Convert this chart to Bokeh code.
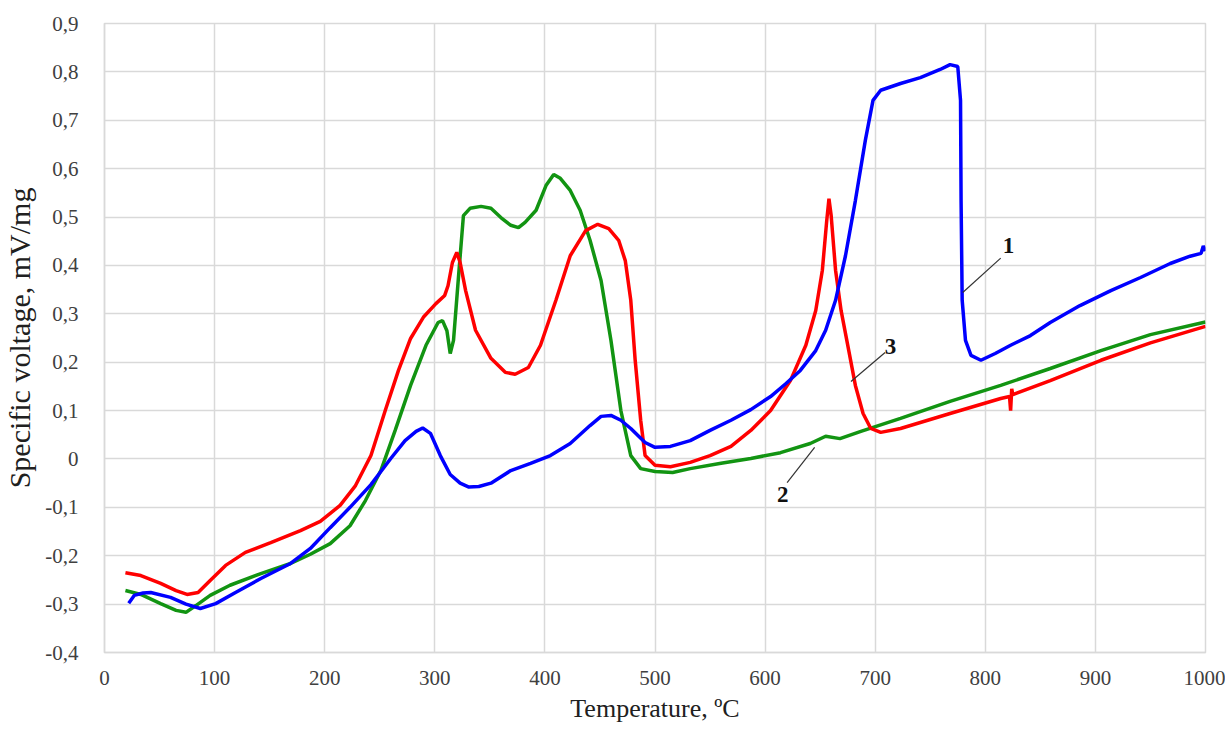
from bokeh.plotting import figure
from bokeh.embed import file_html
from bokeh.resources import INLINE
from bokeh.models import CustomJSTickFormatter, FixedTicker
from bokeh.core.properties import value

# Curve 1 (blue)
t1 = [22, 27, 35, 42, 60, 74, 87, 101, 119, 142, 169, 187, 205, 223, 242, 260, 273, 283, 289, 296,
      305, 314, 323, 331, 340, 351, 369, 387, 405, 423, 441, 451, 460, 469, 478, 491, 500, 514, 532,
      550, 569, 587, 605, 619, 632, 646, 655, 664, 673, 682, 691, 698, 705, 723, 741, 759, 768, 775,
      777.5, 778, 779, 782, 787, 796, 809, 823, 841, 859, 886, 914, 941, 968, 986, 996, 998, 1000]
v1 = [-0.298, -0.282, -0.277, -0.276, -0.286, -0.300, -0.309, -0.299, -0.276, -0.247, -0.216, -0.185,
      -0.142, -0.100, -0.053, 0.001, 0.038, 0.057, 0.064, 0.053, 0.007, -0.032, -0.050, -0.058, -0.057,
      -0.050, -0.024, -0.009, 0.007, 0.032, 0.069, 0.088, 0.090, 0.080, 0.063, 0.034, 0.024, 0.026,
      0.038, 0.059, 0.080, 0.102, 0.129, 0.156, 0.183, 0.224, 0.266, 0.328, 0.420, 0.534, 0.658, 0.741,
      0.762, 0.776, 0.788, 0.805, 0.815, 0.811, 0.741, 0.534, 0.328, 0.245, 0.214, 0.204, 0.218, 0.235,
      0.255, 0.282, 0.317, 0.348, 0.375, 0.404, 0.419, 0.425, 0.440, 0.430]

# Curve 2 (green)
t2 = [19, 33, 51, 65, 74, 83, 96, 114, 142, 169, 187, 205, 223, 237, 251, 264, 278, 292, 303, 307,
      311, 314, 317, 322, 326, 332, 342, 351, 360, 369, 376, 382, 392, 401, 408, 414, 423, 432, 441,
      451, 460, 469, 478, 487, 500, 516, 532, 560, 587, 614, 641, 655, 668, 687, 723, 768, 814, 859,
      905, 950, 1000]
v2 = [-0.272, -0.280, -0.299, -0.313, -0.317, -0.303, -0.282, -0.261, -0.237, -0.216, -0.197, -0.175,
      -0.138, -0.086, -0.024, 0.059, 0.152, 0.235, 0.282, 0.286, 0.265, 0.218, 0.245, 0.390, 0.503,
      0.518, 0.522, 0.518, 0.499, 0.483, 0.478, 0.489, 0.514, 0.565, 0.588, 0.580, 0.555, 0.514, 0.452,
      0.369, 0.245, 0.100, 0.007, -0.020, -0.026, -0.028, -0.020, -0.009, 0.001, 0.013, 0.032, 0.047,
      0.042, 0.057, 0.084, 0.119, 0.152, 0.187, 0.224, 0.257, 0.283]

# Curve 3 (red)
t3 = [19, 33, 51, 65, 75, 85, 96, 110, 128, 151, 178, 196, 214, 228, 242, 255, 267, 278, 290, 301,
      309, 312, 316, 320, 323, 328, 337, 351, 364, 373, 385, 396, 410, 423, 437, 448, 458, 467, 473,
      478, 482, 487, 491, 500, 514, 532, 550, 569, 587, 605, 623, 637, 646, 652, 656, 658, 660, 664,
      669, 676, 682, 689, 696, 705, 723, 768, 814, 822, 823, 824, 825, 859, 905, 950, 1000]
v3 = [-0.235, -0.241, -0.257, -0.272, -0.280, -0.276, -0.251, -0.220, -0.193, -0.173, -0.148, -0.129,
      -0.096, -0.055, 0.007, 0.100, 0.183, 0.249, 0.294, 0.321, 0.338, 0.358, 0.406, 0.427, 0.406, 0.348,
      0.266, 0.208, 0.179, 0.175, 0.189, 0.235, 0.328, 0.420, 0.472, 0.485, 0.476, 0.452, 0.410, 0.328,
      0.204, 0.080, 0.007, -0.013, -0.016, -0.007, 0.007, 0.026, 0.059, 0.100, 0.162, 0.235, 0.307,
      0.390, 0.493, 0.538, 0.503, 0.390, 0.307, 0.224, 0.152, 0.094, 0.063, 0.055, 0.063, 0.094, 0.125,
      0.129, 0.100, 0.145, 0.133, 0.162, 0.204, 0.240, 0.274]

x_ticks = list(range(0, 1001, 100))
y_ticks = [round(-0.4 + 0.1 * i, 1) for i in range(14)]

# Curve number labels and leader lines
lab_text = ["1", "2", "3"]
lab_x = [821, 616, 714]
lab_y = [0.441, -0.073, 0.232]
lead_x0 = [779.5, 645, 678]
lead_y0 = [0.344, 0.024, 0.160]
lead_x1 = [814, 620, 709]
lead_y1 = [0.415, -0.049, 0.220]

p = figure(frame_width=1101, frame_height=629, min_border_left=104, min_border_right=20,
           min_border_top=23, min_border_bottom=77, x_range=(0, 1000), y_range=(-0.4, 0.9),
           output_backend="svg", toolbar_location=None, background_fill_color="white",
           border_fill_color="white")

grid_col = "#d9d9d9"
p.outline_line_color = grid_col
p.outline_line_width = 1.5
for g in (p.xgrid, p.ygrid):
    g.grid_line_color = grid_col
    g.grid_line_width = 1.5
p.xaxis.ticker = FixedTicker(ticks=x_ticks)
p.yaxis.ticker = FixedTicker(ticks=y_ticks)
p.xgrid.ticker = FixedTicker(ticks=x_ticks)
p.ygrid.ticker = FixedTicker(ticks=y_ticks)
p.yaxis.formatter = CustomJSTickFormatter(code="""
var v = Math.round(tick*10)/10;
if (Math.abs(v) < 1e-9) return '0';
return v.toFixed(1).replace('.', ',');
""")
p.xaxis.formatter = CustomJSTickFormatter(code="return Math.round(tick).toString();")

for ax in (p.xaxis, p.yaxis):
    ax.axis_line_color = grid_col
    ax.axis_line_width = 1.5
    ax.major_tick_line_color = None
    ax.minor_tick_line_color = None
    ax.major_label_text_font = "Liberation Serif"
    ax.major_label_text_font_size = "21px"
    ax.major_label_text_color = "#404040"
    ax.axis_label_text_font = "Liberation Serif"
    ax.axis_label_text_font_style = "normal"
    ax.axis_label_text_color = "#202020"

p.xaxis.axis_label_text_font_size = "26px"
p.yaxis.axis_label_text_font_size = "30px"
p.xaxis.major_label_standoff = 12
p.yaxis.major_label_standoff = 20
p.xaxis.axis_label = "Temperature, ºC"
p.yaxis.axis_label = "Specific voltage, mV/mg"
p.xaxis.axis_label_standoff = 6
p.yaxis.axis_label_standoff = 6

p.line(t2, v2, line_color="#129412", line_width=3.5)
p.line(t3, v3, line_color="#ff0000", line_width=3.5)
p.line(t1, v1, line_color="#0000ff", line_width=3.5)

p.segment(lead_x0, lead_y0, lead_x1, lead_y1, line_color="#333333", line_width=1.2)
p.text(lab_x, lab_y, text=lab_text, text_font=value("Liberation Serif"), text_font_size="23px",
       text_font_style="bold", text_color="#111111", text_align="center", text_baseline="middle")

open("out.html", "w").write(file_html(p, INLINE))
